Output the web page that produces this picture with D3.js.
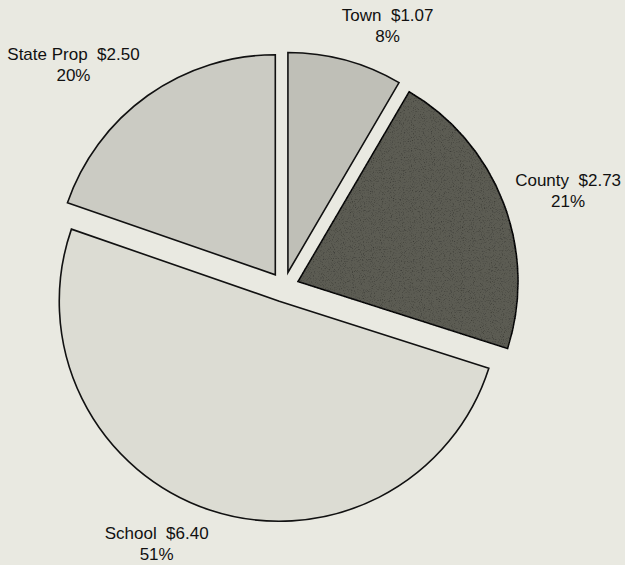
<!DOCTYPE html>
<html>

<head>
    <meta charset="utf-8">
    <style>
        body {
            margin: 0;
            background: #e9e9e1;
        }

        svg {
            display: block;
        }

        .label {
            font-family: "Liberation Sans", Arial, sans-serif;
            font-size: 17px;
            fill: #111;
            white-space: pre;
        }
    </style>
</head>

<body>
    <svg width="625" height="565"></svg>

    <script src="https://d3js.org/d3.v7.min.js"></script>
    <script>
        // data (clockwise from 12 o'clock)
        let names = ["Town", "County", "School", "State Prop"]
        let amounts = [1.07, 2.73, 6.40, 2.50]
        let percents = ["8%", "21%", "51%", "20%"]

        let fills = ["#bfbfb7", "#5b5b53", "#dcdcd3", "#cbcbc3"]

        let width = 625;
        let height = 565;
        let cx = 284, cy = 287;
        let radius = 220;
        let explode = 15;

        let svg = d3.select("svg")

        let data = names.map((n, i) => ({ name: n, value: amounts[i], pct: percents[i] }))

        let pie = d3.pie()
            .sort(null)
            .value(d => d.value)

        let arcs = pie(data)

        let arc = d3.arc()
            .innerRadius(0)
            .outerRadius(radius)

        let g = svg.append("g")
            .attr("transform", `translate(${cx},${cy})`)

        // offset of each slice along its bisector
        function shift(d, dist) {
            let a = (d.startAngle + d.endAngle) / 2
            return [Math.sin(a) * dist, -Math.cos(a) * dist]
        }

        // speckle texture for the darker slice
        let defs = svg.append("defs")
        let noise = defs.append("filter").attr("id", "grain")
        noise.append("feTurbulence")
            .attr("type", "fractalNoise")
            .attr("baseFrequency", 0.9)
            .attr("numOctaves", 2)
            .attr("seed", 3)
            .attr("result", "n")
        noise.append("feColorMatrix")
            .attr("in", "n")
            .attr("type", "matrix")
            .attr("values", "0 0 0 0 0  0 0 0 0 0  0 0 0 0 0  0 0 0 -1.6 0.75")
            .attr("result", "dots")
        noise.append("feComposite")
            .attr("in", "dots")
            .attr("in2", "SourceGraphic")
            .attr("operator", "in")
            .attr("result", "clipped")
        noise.append("feMerge")
            .call(m => {
                m.append("feMergeNode").attr("in", "SourceGraphic")
                m.append("feMergeNode").attr("in", "clipped")
            })

        g.selectAll("path")
            .data(arcs)
            .join("path")
            .attr("transform", d => {
                let [dx, dy] = shift(d, explode)
                return `translate(${dx},${dy})`
            })
            .attr("d", arc)
            .attr("fill", (d, i) => fills[i])
            .attr("stroke", "#111")
            .attr("stroke-width", 1.6)
            .attr("stroke-linejoin", "miter")
            .attr("filter", d => d.data.name == "County" ? "url(#grain)" : null)

        // labels: placed outside along the bisector, then nudged
        let nudge = {
            "Town": [33, 6],
            "County": [32, 7],
            "School": [-42, 7],
            "State Prop": [-54, 4]
        }
        let labelRadius = 270

        let labels = g.selectAll("text.label")
            .data(arcs)
            .join("text")
            .attr("class", "label")
            .attr("text-anchor", "middle")
            .attr("transform", d => {
                let [x, y] = shift(d, labelRadius)
                let n = nudge[d.data.name]
                return `translate(${x + n[0]},${y + n[1]})`
            })

        labels.append("tspan")
            .attr("x", 0)
            .attr("y", -11)
            .text(d => `${d.data.name}  $${d.data.value.toFixed(2)}`)

        labels.append("tspan")
            .attr("x", 0)
            .attr("y", 10)
            .text(d => d.data.pct)
    </script>
</body>

</html>
